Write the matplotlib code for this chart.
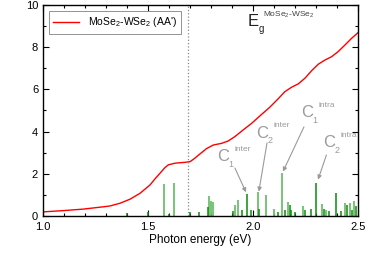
import matplotlib
matplotlib.use("Agg")
import matplotlib.pyplot as plt
from matplotlib.ticker import MultipleLocator

plt.rcParams["font.family"] = ["Liberation Sans", "DejaVu Sans"]
plt.rcParams["mathtext.fontset"] = "custom"
plt.rcParams["mathtext.rm"] = "Liberation Sans"
plt.rcParams["mathtext.it"] = "Liberation Sans:italic"

# absorption curve (red)
energy = [1.0, 1.097, 1.19, 1.287, 1.319, 1.367, 1.414, 1.462, 1.51, 1.533, 1.557,
          1.581, 1.597, 1.629, 1.676, 1.70, 1.716, 1.748, 1.779, 1.811, 1.851,
          1.882, 1.914, 1.954, 1.994, 2.033, 2.08, 2.12, 2.152, 2.184, 2.216,
          2.248, 2.28, 2.311, 2.343, 2.375, 2.406, 2.438, 2.47, 2.5]
absorb = [0.19, 0.25, 0.32, 0.43, 0.47, 0.60, 0.79, 1.07, 1.47, 1.75, 2.02,
          2.29, 2.42, 2.50, 2.54, 2.57, 2.68, 2.94, 3.19, 3.36, 3.44,
          3.55, 3.76, 4.08, 4.39, 4.74, 5.15, 5.55, 5.89, 6.10, 6.26,
          6.53, 6.89, 7.19, 7.39, 7.55, 7.79, 8.10, 8.42, 8.68]

# oscillator strengths (sticks)
light_e = [1.578, 1.624, 1.79, 1.80, 1.81, 1.915, 1.93, 2.025, 2.062, 2.10,
           2.14, 2.165, 2.237, 2.327, 2.44, 2.46, 2.48, 2.35]
light_h = [1.53, 1.56, 0.92, 0.7, 0.65, 0.5, 0.76, 1.12, 1.0, 0.35,
           2.03, 0.65, 0.45, 0.55, 0.6, 0.6, 0.7, 0.3]
dark_e = [1.40, 1.50, 1.60, 1.70, 1.745, 1.785, 1.905, 1.946, 1.973, 1.99,
          2.03, 2.155, 2.175, 2.18, 2.25, 2.275, 2.30, 2.34, 2.36, 2.394,
          2.42, 2.45, 2.49, 2.47, 2.20, 2.12]
dark_h = [0.15, 0.2, 0.1, 0.2, 0.2, 0.4, 0.25, 0.3, 1.04, 0.3,
          0.35, 0.3, 0.5, 0.3, 0.3, 0.35, 1.58, 0.35, 0.25, 1.08,
          0.25, 0.5, 0.45, 0.3, 0.2, 0.2]

eg_line = 1.692

# peak labels
peak_sub = ["1", "2", "1", "2"]
peak_sup = ["inter", "inter", "intra", "intra"]
label_x = [1.857, 2.043, 2.257, 2.362]
label_y = [2.8, 3.93, 4.88, 3.46]
arrow_x0 = [1.914, 2.067, 2.243, 2.350]
arrow_y0 = [2.27, 3.46, 4.22, 2.89]
arrow_x1 = [1.967, 2.028, 2.143, 2.31]
arrow_y1 = [1.12, 1.15, 2.1, 1.72]

fig = plt.figure(figsize=(3.74, 2.62), dpi=100)
ax = fig.add_axes([0.115, 0.176, 0.842, 0.805])

ax.vlines(light_e, 0, light_h, color="#6cbf6c", lw=1.3)
ax.vlines(dark_e, 0, dark_h, color="#0a8a0a", lw=1.1)
ax.plot(energy, absorb, color="red", lw=1.0, label="MoSe$_2$-WSe$_2$ (AA')")
ax.axvline(eg_line, color="#888888", ls=":", lw=0.9)

grey = "#9a9a9a"
for i in range(len(label_x)):
    ax.text(label_x[i], label_y[i], "C", fontsize=12, color=grey, ha="center", va="center")
    ax.annotate(peak_sub[i], (label_x[i], label_y[i]), xytext=(6, -5.5), textcoords="offset points",
                fontsize=6.5, color=grey, ha="center", va="center")
    ax.annotate(peak_sup[i], (label_x[i], label_y[i]), xytext=(8.5, 5.5), textcoords="offset points",
                fontsize=6, color=grey, ha="left", va="center")
    ax.annotate("", xy=(arrow_x1[i], arrow_y1[i]), xytext=(arrow_x0[i], arrow_y0[i]),
                arrowprops=dict(arrowstyle="-|>", color=grey, lw=0.8,
                                shrinkA=0, shrinkB=0, mutation_scale=6))

ax.text(1.976, 9.2, "E", fontsize=12, color="#222222", ha="left", va="center")
ax.annotate("g", (1.976, 9.2), xytext=(7.5, -5), textcoords="offset points",
            fontsize=7, color="#222222", ha="left", va="center")
ax.annotate("MoSe$_2$-WSe$_2$", (1.976, 9.2), xytext=(11, 5), textcoords="offset points",
            fontsize=6, color="#444444", ha="left", va="center")

ax.set_xlim(1.0, 2.5)
ax.set_ylim(0, 10)
ax.xaxis.set_major_locator(MultipleLocator(0.5))
ax.xaxis.set_minor_locator(MultipleLocator(0.1))
ax.yaxis.set_major_locator(MultipleLocator(2))
ax.yaxis.set_minor_locator(MultipleLocator(1))
ax.tick_params(which="both", direction="in", top=True, right=True, labelsize=8)
ax.tick_params(axis="x", pad=4.5)
ax.tick_params(axis="y", pad=3.5)
ax.tick_params(which="major", length=4, width=0.8)
ax.tick_params(which="minor", length=2.5, width=0.8)
ax.set_xlabel("Photon energy (eV)", fontsize=8.5, labelpad=1)
for s in ax.spines.values():
    s.set_linewidth(1.0)

leg = ax.legend(loc="upper left", fontsize=7.5, frameon=True, fancybox=False,
                edgecolor="#777777", handlelength=2.5, borderaxespad=0.6,
                borderpad=0.4)
leg.get_frame().set_linewidth(0.7)

fig.savefig("out.png", dpi=100)
